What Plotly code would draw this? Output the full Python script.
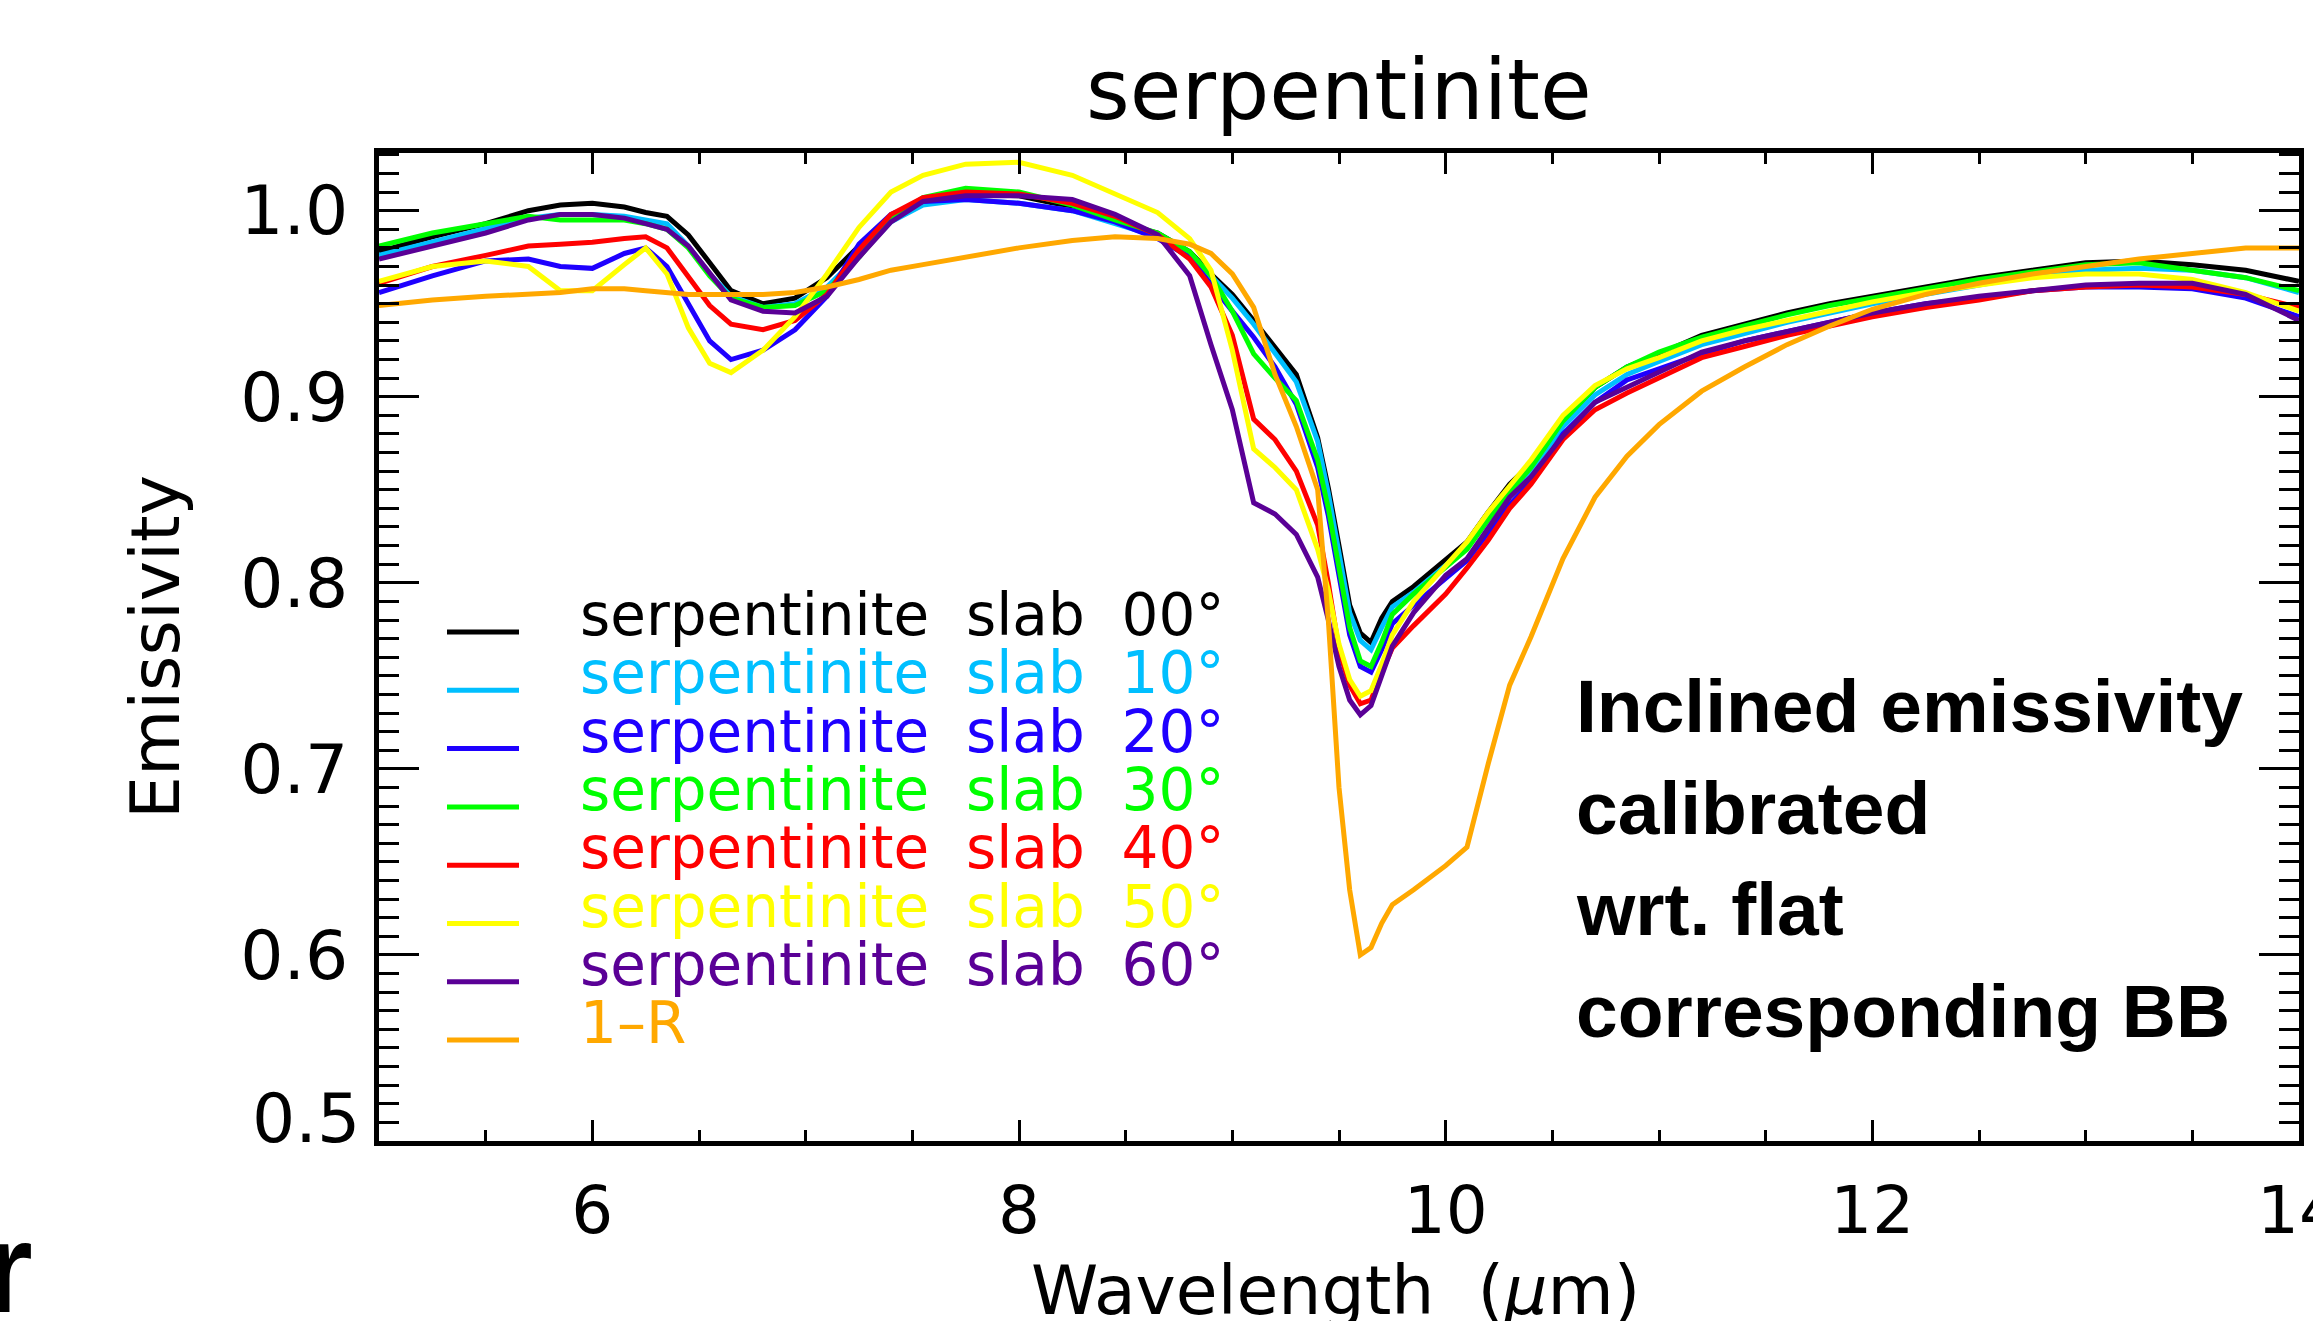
import plotly.graph_objects as go

# Wavelength grid (micrometres) shared by all spectra
wavelength = [5.0, 5.25, 5.5, 5.7, 5.85, 6.0, 6.15, 6.25, 6.35, 6.45, 6.55, 6.65, 6.8, 6.95,
              7.1, 7.25, 7.4, 7.55, 7.75, 8.0, 8.25, 8.45, 8.65, 8.8, 8.9, 9.0, 9.1, 9.2,
              9.3, 9.4, 9.45, 9.5, 9.55, 9.6, 9.65, 9.7, 9.75, 9.85, 10.0, 10.1, 10.2, 10.3,
              10.4, 10.55, 10.7, 10.85, 11.0, 11.2, 11.4, 11.6, 11.8, 12.0, 12.25, 12.5,
              12.75, 13.0, 13.25, 13.5, 13.75, 14.0]

slab_00 = [0.978, 0.986, 0.993, 1.000, 1.003, 1.004, 1.002, 0.999, 0.997, 0.987, 0.972, 0.957,
           0.950, 0.953, 0.964, 0.981, 0.997, 1.006, 1.009, 1.008, 1.002, 0.994, 0.988, 0.978,
           0.966, 0.955, 0.941, 0.926, 0.912, 0.878, 0.851, 0.820, 0.788, 0.773, 0.768, 0.781,
           0.790, 0.798, 0.812, 0.822, 0.838, 0.853, 0.864, 0.887, 0.905, 0.916, 0.923, 0.933,
           0.939, 0.945, 0.950, 0.954, 0.959, 0.964, 0.968, 0.972, 0.973, 0.971, 0.968, 0.962]

slab_10 = [0.976, 0.983, 0.990, 0.996, 0.998, 0.998, 0.997, 0.995, 0.993, 0.981, 0.966, 0.954,
           0.948, 0.950, 0.959, 0.976, 0.994, 1.003, 1.006, 1.004, 1.000, 0.993, 0.986, 0.977,
           0.965, 0.953, 0.939, 0.924, 0.908, 0.876, 0.848, 0.816, 0.784, 0.769, 0.764, 0.776,
           0.787, 0.795, 0.809, 0.819, 0.834, 0.849, 0.860, 0.884, 0.901, 0.912, 0.919, 0.928,
           0.934, 0.940, 0.945, 0.950, 0.955, 0.960, 0.965, 0.968, 0.969, 0.968, 0.964, 0.956]

slab_20 = [0.956, 0.965, 0.973, 0.974, 0.970, 0.969, 0.977, 0.980, 0.970, 0.950, 0.930, 0.920,
           0.925, 0.936, 0.954, 0.982, 0.998, 1.005, 1.006, 1.004, 1.000, 0.994, 0.985, 0.975,
           0.960, 0.946, 0.932, 0.916, 0.896, 0.862, 0.836, 0.804, 0.772, 0.755, 0.752, 0.764,
           0.778, 0.788, 0.802, 0.812, 0.827, 0.842, 0.854, 0.880, 0.897, 0.909, 0.915, 0.923,
           0.930, 0.935, 0.940, 0.945, 0.950, 0.953, 0.957, 0.959, 0.959, 0.958, 0.953, 0.943]

slab_30 = [0.981, 0.988, 0.993, 0.997, 0.995, 0.995, 0.995, 0.993, 0.990, 0.980, 0.965, 0.953,
           0.948, 0.949, 0.957, 0.975, 0.995, 1.007, 1.012, 1.010, 1.003, 0.995, 0.988, 0.978,
           0.965, 0.946, 0.923, 0.910, 0.898, 0.866, 0.840, 0.808, 0.776, 0.758, 0.755, 0.768,
           0.783, 0.794, 0.808, 0.818, 0.834, 0.849, 0.862, 0.887, 0.905, 0.916, 0.924, 0.932,
           0.938, 0.944, 0.949, 0.953, 0.958, 0.963, 0.967, 0.971, 0.972, 0.968, 0.964, 0.957]

slab_40 = [0.961, 0.970, 0.976, 0.981, 0.982, 0.983, 0.985, 0.986, 0.980, 0.965, 0.949, 0.939,
           0.936, 0.941, 0.955, 0.979, 0.998, 1.007, 1.010, 1.009, 1.004, 0.997, 0.987, 0.974,
           0.959, 0.933, 0.888, 0.877, 0.860, 0.831, 0.800, 0.764, 0.745, 0.735, 0.737, 0.752,
           0.765, 0.777, 0.794, 0.808, 0.823, 0.840, 0.853, 0.877, 0.893, 0.902, 0.910, 0.921,
           0.927, 0.933, 0.938, 0.943, 0.948, 0.952, 0.957, 0.959, 0.960, 0.959, 0.955, 0.948]

slab_50 = [0.962, 0.970, 0.973, 0.970, 0.957, 0.957, 0.971, 0.980, 0.966, 0.937, 0.918, 0.913,
           0.925, 0.943, 0.966, 0.991, 1.010, 1.019, 1.025, 1.026, 1.019, 1.009, 0.999, 0.985,
           0.968, 0.925, 0.872, 0.862, 0.850, 0.818, 0.796, 0.767, 0.748, 0.739, 0.742, 0.756,
           0.772, 0.790, 0.809, 0.822, 0.838, 0.852, 0.866, 0.890, 0.906, 0.915, 0.921, 0.930,
           0.936, 0.941, 0.946, 0.951, 0.956, 0.960, 0.964, 0.966, 0.966, 0.963, 0.956, 0.946]

slab_60 = [0.974, 0.981, 0.988, 0.995, 0.998, 0.998, 0.996, 0.993, 0.990, 0.981, 0.966, 0.952,
           0.946, 0.945, 0.954, 0.975, 0.994, 1.005, 1.008, 1.008, 1.006, 0.998, 0.987, 0.965,
           0.928, 0.893, 0.843, 0.837, 0.826, 0.803, 0.780, 0.755, 0.737, 0.729, 0.734, 0.750,
           0.766, 0.784, 0.804, 0.813, 0.829, 0.846, 0.857, 0.879, 0.897, 0.905, 0.913, 0.924,
           0.930, 0.935, 0.940, 0.945, 0.950, 0.954, 0.957, 0.960, 0.961, 0.961, 0.955, 0.941]

one_minus_r = [0.949, 0.952, 0.954, 0.955, 0.956, 0.958, 0.958, 0.957, 0.956, 0.955, 0.955, 0.955,
               0.955, 0.956, 0.959, 0.963, 0.968, 0.971, 0.975, 0.980, 0.984, 0.986, 0.985, 0.982,
               0.977, 0.966, 0.948, 0.912, 0.884, 0.850, 0.780, 0.690, 0.635, 0.600, 0.604, 0.617,
               0.627, 0.635, 0.648, 0.658, 0.703, 0.745, 0.771, 0.813, 0.846, 0.868, 0.885, 0.903,
               0.916, 0.928, 0.938, 0.947, 0.955, 0.961, 0.966, 0.970, 0.974, 0.977, 0.980, 0.980]

series_labels = ["serpentinite\u00a0\u00a0slab\u00a0\u00a000°",
                 "serpentinite\u00a0\u00a0slab\u00a0\u00a010°",
                 "serpentinite\u00a0\u00a0slab\u00a0\u00a020°",
                 "serpentinite\u00a0\u00a0slab\u00a0\u00a030°",
                 "serpentinite\u00a0\u00a0slab\u00a0\u00a040°",
                 "serpentinite\u00a0\u00a0slab\u00a0\u00a050°",
                 "serpentinite\u00a0\u00a0slab\u00a0\u00a060°",
                 "1–R"]
series_values = [slab_00, slab_10, slab_20, slab_30, slab_40, slab_50, slab_60, one_minus_r]
series_colors = ["#000000", "#00BFFF", "#1E00FF", "#00FF00",
                 "#FF0000", "#FFFF00", "#5A0096", "#FFA800"]

y_ticks = [0.6, 0.7, 0.8, 0.9, 1.0]
x_ticks = [6, 8, 10, 12, 14]

# Figure geometry (pixels)
W, H = 2313, 1321
L, R, T, B = 379, 14, 153, 180
PW, PH = W - L - R, H - T - B

def px_x(x):
    return (x - L) / PW

def px_y(y):
    return (H - B - y) / PH

FONT = "DejaVu Sans"

fig = go.Figure()
for name, vals, col in zip(series_labels, series_values, series_colors):
    fig.add_trace(go.Scatter(x=wavelength, y=vals, mode="lines", name=name,
                             line=dict(color=col, width=5), showlegend=False))

annotations = []
shapes = []

# Hand-drawn legend: coloured sample line + coloured label per spectrum
for i, (name, col) in enumerate(zip(series_labels, series_colors)):
    y_line = 632 + 58.3 * i
    shapes.append(dict(type="line", xref="paper", yref="paper",
                       x0=px_x(447), x1=px_x(519), y0=px_y(y_line), y1=px_y(y_line),
                       line=dict(color=col, width=5)))
    annotations.append(dict(text=name, xref="paper", yref="paper",
                            x=px_x(578), y=px_y(y_line - 17), xanchor="left", yanchor="middle",
                            showarrow=False, font=dict(family=FONT, size=58, color=col)))

# Explanatory note
note_lines = ["Inclined emissivity", "calibrated", "wrt. flat", "corresponding BB"]
for i, line in enumerate(note_lines):
    annotations.append(dict(text=f"<b>{line}</b>", xref="paper", yref="paper",
                            x=px_x(1574), y=px_y(706 + 101.6 * i), xanchor="left",
                            yanchor="middle", showarrow=False,
                            font=dict(family="Liberation Sans", size=75, color="black")))

# Title and axis titles
annotations.append(dict(text="serpentinite", xref="paper", yref="paper",
                        x=0.5, y=px_y(90), xanchor="center", yanchor="middle",
                        showarrow=False, font=dict(family=FONT, size=84, color="black")))
annotations.append(dict(text="Emissivity", xref="paper", yref="paper", textangle=-90,
                        x=px_x(155), y=0.5, xanchor="center", yanchor="middle",
                        showarrow=False, font=dict(family=FONT, size=68, color="black")))
annotations.append(dict(text="Wavelength\u00a0\u00a0(<i>µ</i>m)", xref="paper", yref="paper",
                        x=px_x(1335), y=px_y(1290), xanchor="center", yanchor="middle",
                        showarrow=False, font=dict(family=FONT, size=68, color="black")))
# Lowest y label sits slightly above the axis corner
annotations.append(dict(text="0.5", xref="paper", yref="y", x=px_x(362), y=0.5,
                        yshift=23, xanchor="right", yanchor="middle", showarrow=False,
                        font=dict(family=FONT, size=68, color="black")))
# Fragment of neighbouring text at the lower-left edge
annotations.append(dict(text="<b>r</b>", xref="paper", yref="paper",
                        x=px_x(35), y=px_y(1267), xanchor="right", yanchor="middle",
                        showarrow=False,
                        font=dict(family="Liberation Sans", size=128, color="black")))

axis_common = dict(showline=True, linewidth=5, linecolor="black", mirror="ticks",
                   ticks="inside", tickcolor="black", showgrid=False, zeroline=False,
                   ticklabeloverflow="allow", automargin=False)

fig.update_layout(
    width=W, height=H,
    margin=dict(l=L, r=R, t=T, b=B, autoexpand=False),
    paper_bgcolor="white", plot_bgcolor="white",
    xaxis=dict(range=[5, 14], tickvals=x_ticks, ticktext=[str(v) for v in x_ticks],
               ticklen=21, tickwidth=3, ticklabelstandoff=8,
               tickfont=dict(family=FONT, size=66, color="black"),
               minor=dict(tickmode="linear", tick0=5, dtick=0.5, ticks="inside",
                          ticklen=11, tickwidth=3, tickcolor="black"),
               **axis_common),
    yaxis=dict(range=[0.5, 1.031], tickvals=y_ticks, ticktext=[f"{v:.1f}" for v in y_ticks],
               ticklen=40, tickwidth=3, ticklabelstandoff=12,
               tickfont=dict(family=FONT, size=68, color="black"),
               minor=dict(tickmode="linear", tick0=0.5, dtick=0.01, ticks="inside",
                          ticklen=20, tickwidth=3, tickcolor="black"),
               **axis_common),
    annotations=annotations,
    shapes=shapes,
)

fig.write_html("out.html")
